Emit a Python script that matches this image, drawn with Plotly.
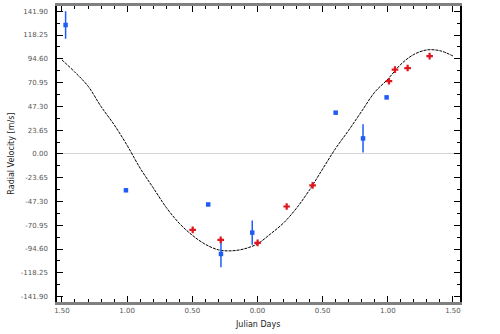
import plotly.graph_objects as go

# Radial velocity observations (blue instrument, with errors)
blue_t = [-1.472, -1.009, -0.378, -0.280, -0.040, 0.600, 0.810, 0.991]
blue_rv = [128.2, -36.2, -50.3, -99.5, -78.3, 41.0, 15.4, 56.2]
blue_err = [13.7, 0.0, 0.0, 13.3, 12.0, 0.0, 14.0, 0.0]

# Radial velocity observations (red instrument)
red_t = [-0.497, -0.282, 0.001, 0.224, 0.423, 1.009, 1.055, 1.152, 1.321]
red_rv = [-75.6, -85.5, -88.5, -52.3, -31.3, 72.3, 83.8, 85.4, 97.2]
red_err = [1.8, 1.8, 1.8, 1.8, 1.8, 1.8, 1.8, 1.8, 1.8]

# Orbital model curve
model_t = [-1.5, -1.4, -1.3, -1.2, -1.1, -1.0, -0.9, -0.8, -0.7, -0.6, -0.5,
           -0.4, -0.3, -0.2, -0.1, 0.0, 0.1, 0.2, 0.3, 0.4, 0.5, 0.6, 0.7,
           0.8, 0.9, 1.0, 1.1, 1.2, 1.3, 1.4, 1.5]
model_rv = [93.5, 81.2, 67.4, 47.1, 29.1, 8.5, -14.2, -33.7, -53.2, -69.0,
            -80.9, -89.9, -95.4, -96.4, -94.4, -89.4, -79.6, -68.7, -53.9,
            -35.7, -15.0, 5.5, 23.5, 42.5, 61.4, 74.3, 89.1, 98.9, 103.4,
            102.6, 97.4]

x_ticks = [-1.5, -1.0, -0.5, 0.0, 0.5, 1.0, 1.5]
x_labels = ["1.50", "1.00", "0.50", "0.00", "0.50", "1.00", "1.50"]
y_ticks = [-141.90, -118.25, -94.60, -70.95, -47.30, -23.65, 0.0,
           23.65, 47.30, 70.95, 94.60, 118.25, 141.90]
y_labels = ["%.2f" % v for v in y_ticks]

fig = go.Figure()

fig.add_trace(go.Scatter(
    x=model_t, y=model_rv, mode="lines",
    line=dict(color="black", width=1, dash="3px,1px", shape="spline"),
    hoverinfo="skip", showlegend=False))

fig.add_trace(go.Scatter(
    x=blue_t, y=blue_rv, mode="markers",
    marker=dict(symbol="square", size=4.5, color="#1f5cf5"),
    error_y=dict(type="data", array=blue_err, visible=True,
                 color="#1f5cf5", thickness=1.5, width=0),
    showlegend=False))

fig.add_trace(go.Scatter(
    x=red_t, y=red_rv, mode="markers",
    marker=dict(symbol="cross", size=5.5, color="#e0161c"),
    error_y=dict(type="data", array=red_err, visible=True,
                 color="#e0161c", thickness=1.2, width=0),
    showlegend=False))

tick_font = dict(family="DejaVu Sans", size=7, color="#555555")

fig.update_layout(
    width=500, height=334,
    margin=dict(l=57, r=40, t=3, b=32),
    paper_bgcolor="white", plot_bgcolor="white",
    xaxis=dict(
        range=[-1.538, 1.554], tickvals=x_ticks, ticktext=x_labels,
        ticks="inside", ticklen=6, tickcolor="black", tickwidth=1,
        minor=dict(dtick=0.1, tick0=0, ticks="inside", ticklen=3,
                   tickcolor="black", showgrid=False),
        showline=True, linecolor="#808080", linewidth=2.5, mirror="allticks",
        showgrid=False, zeroline=False, tickfont=tick_font,
    ),
    yaxis=dict(
        range=[-147.3, 147.1], tickvals=y_ticks, ticktext=y_labels,
        ticks="inside", ticklen=6, tickcolor="black", tickwidth=1,
        minor=dict(dtick=11.825, tick0=0, ticks="inside", ticklen=3,
                   tickcolor="black", showgrid=False),
        showline=True, linecolor="black", linewidth=1.5, mirror="allticks",
        showgrid=False, zeroline=True, zerolinecolor="#d4d4d4",
        zerolinewidth=1, tickfont=tick_font, ticklabelstandoff=6,
    ),
    annotations=[
        dict(text="Julian Days", xref="paper", yref="paper",
             x=(257 - 57) / 403, y=-(324 - 301.7) / 298.7,
             showarrow=False, xanchor="center", yanchor="middle",
             font=dict(family="DejaVu Sans", size=8, color="#222222")),
        dict(text="Radial Velocity [m/s]", xref="paper", yref="paper",
             x=(12 - 57) / 403, y=(301.7 - 152) / 298.7, textangle=-90,
             showarrow=False, xanchor="center", yanchor="middle",
             font=dict(family="DejaVu Sans", size=8, color="#222222")),
    ],
)

fig.write_html("out.html")
